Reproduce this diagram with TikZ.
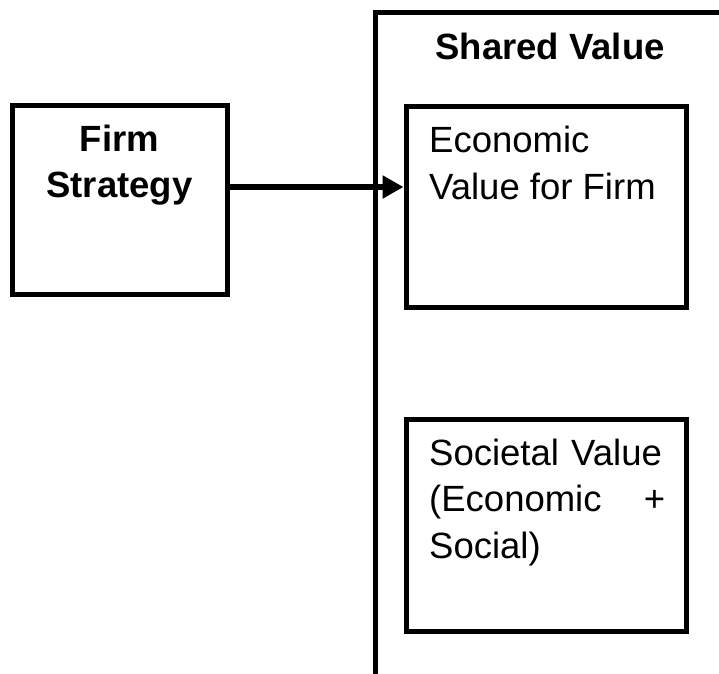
\documentclass[tikz,border=0pt]{standalone}
\usepackage{fontspec}
\setmainfont{Liberation Sans}
\usetikzlibrary{positioning,arrows.meta}

\begin{document}
\begin{tikzpicture}[x=1pt,y=-1pt,
    box/.style={draw,line width=5pt,outer sep=0pt,inner sep=0pt},
    plaintext/.style={inner sep=0pt,font=\fontsize{36.5}{46.5}\selectfont},
    boldtext/.style={inner sep=0pt,font=\fontsize{36.5}{46.5}\selectfont\bfseries},
    flow/.style={line width=6.5pt,shorten >=2.5pt,-{Triangle[length=21pt,width=22pt]}}]
  \useasboundingbox (0,0) rectangle (719,673);
  % shared value frame, open to the right and below
  \coordinate (framebottom) at (375,676);
  \coordinate (framecorner) at (375,12.5);
  \coordinate (frameright) at (722,12.5);
  \draw[line width=5pt] (framebottom) -- (framecorner) -- (frameright);
  \node[boldtext,anchor=base] (shared) at (550,59) {Shared Value};
  % boxes
  \node[box,minimum width=215pt,minimum height=189pt] (firm) at (119.5,199.5) {};
  \node[box,minimum width=280pt,minimum height=201pt] (econ) at (546,207) {};
  \node[box,minimum width=280pt,minimum height=212.5pt] (soc) at (546,525.25) {};
  % labels
  \node[boldtext,align=center,below=19.5pt of firm.north] (firmlabel) {Firm\\Strategy};
  \node[plaintext,align=left,below right=19.5pt and 23pt of econ.north west] %
    (econlabel) {Economic\\Value for Firm};
  \node[plaintext,text width=236pt,align=left,below right=19.5pt and 23pt of soc.north west] %
    (soclabel) {Societal Value\\(Economic\hfill+\\Social)};
  % arrow
  \draw[flow] ([yshift=12.5pt]firm.east) -- ([yshift=12.5pt]firm.east -| econ.west);
\end{tikzpicture}
\end{document}
